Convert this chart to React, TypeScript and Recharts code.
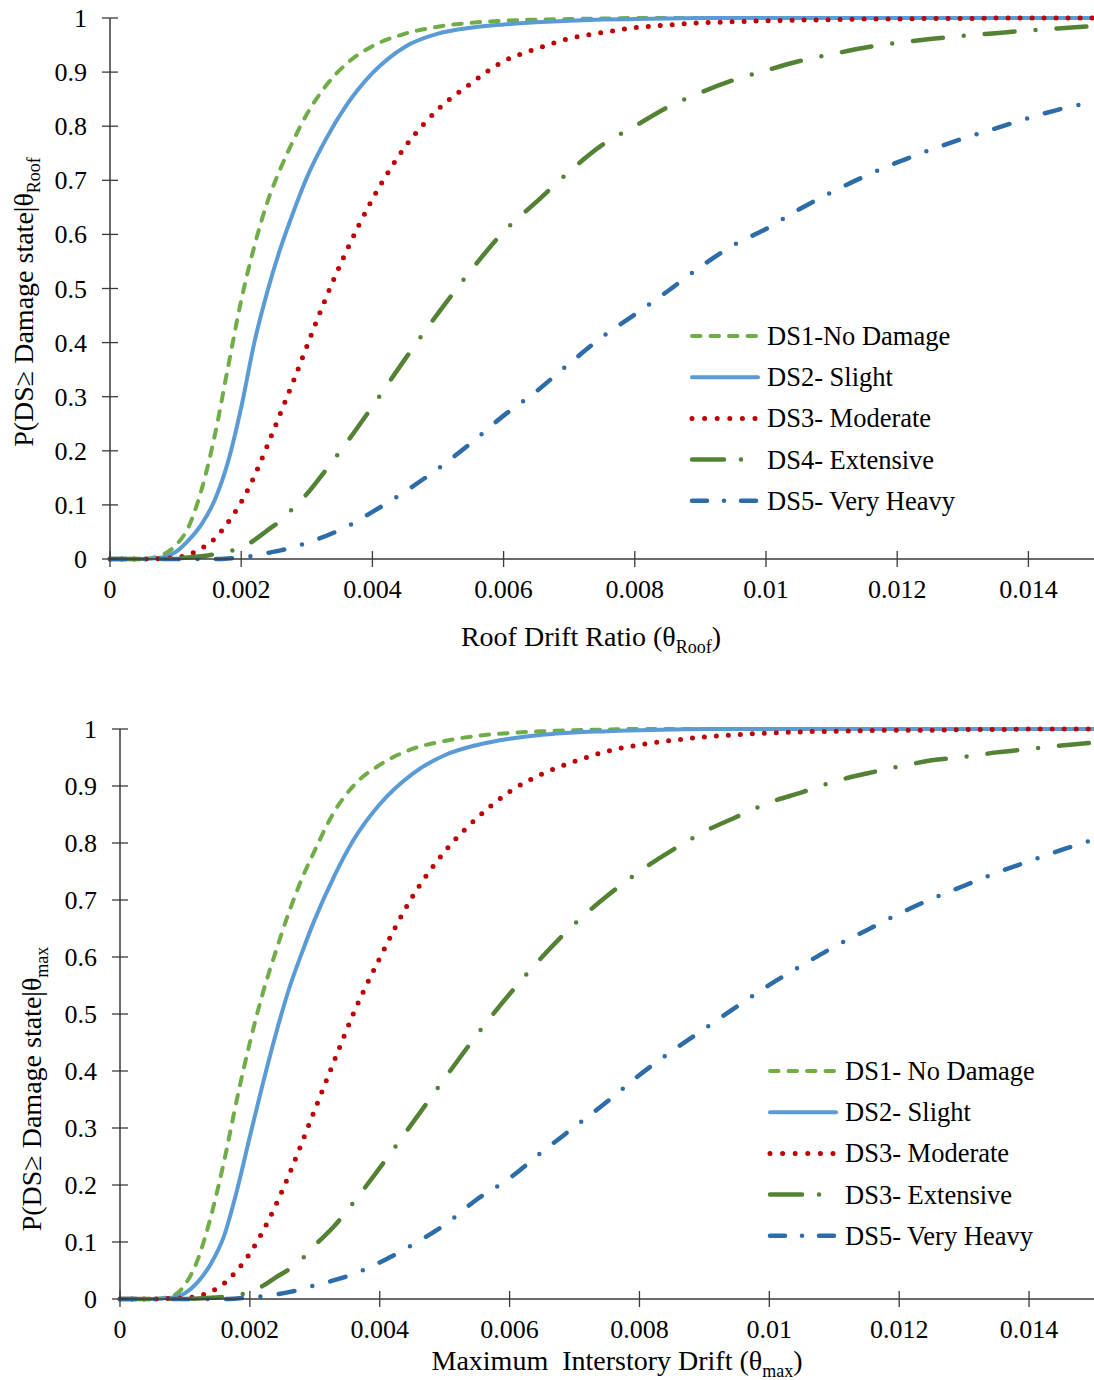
import React from 'react';
import { LineChart, Line, XAxis, YAxis } from 'recharts';

const drift = [
  0, 0.0005, 0.0008, 0.001, 0.0012, 0.0014, 0.0016, 0.0018, 0.002, 0.0022,
  0.0024, 0.0026, 0.0028, 0.003, 0.0033, 0.0036, 0.004, 0.0045, 0.005, 0.0055,
  0.006, 0.0065, 0.007, 0.0075, 0.008, 0.0085, 0.009, 0.0095, 0.01, 0.0105,
  0.011, 0.0115, 0.012, 0.0125, 0.013, 0.0135, 0.014, 0.0145, 0.015,
];

// upper panel: roof drift ratio
const roofDS1 = [
  0, 0, 0.008, 0.025, 0.06, 0.13, 0.23, 0.355, 0.478, 0.578,
  0.66, 0.722, 0.775, 0.822, 0.876, 0.915, 0.948, 0.971, 0.984, 0.991,
  0.995, 0.997, 0.998, 0.999, 1, 1, 1, 1, 1, 1,
  1, 1, 1, 1, 1, 1, 1, 1, 1,
];
const roofDS2 = [
  0, 0, 0.003, 0.013, 0.035, 0.065, 0.11, 0.18, 0.28, 0.4,
  0.495, 0.575, 0.643, 0.705, 0.778, 0.838, 0.898, 0.947, 0.971, 0.982,
  0.988, 0.992, 0.995, 0.997, 0.998, 0.999, 1, 1, 1, 1,
  1, 1, 1, 1, 1, 1, 1, 1, 1,
];
const roofDS3 = [
  0, 0, 0.001, 0.003, 0.008, 0.02, 0.038, 0.068, 0.105, 0.153,
  0.21, 0.27, 0.33, 0.393, 0.485, 0.568, 0.665, 0.762, 0.831, 0.879,
  0.92, 0.943, 0.962, 0.973, 0.982, 0.987, 0.991, 0.993, 0.995, 0.996,
  0.997, 0.998, 0.998, 0.999, 0.999, 1, 1, 1, 1,
];
const roofDS4 = [
  0, 0, 0, 0.001, 0.003, 0.005, 0.009, 0.014, 0.02, 0.035,
  0.053, 0.071, 0.095, 0.12, 0.166, 0.214, 0.282, 0.37, 0.454, 0.533,
  0.605, 0.66, 0.716, 0.765, 0.8, 0.835, 0.862, 0.885, 0.903, 0.92,
  0.933, 0.945, 0.954, 0.961, 0.967, 0.972, 0.977, 0.981, 0.985,
];
const roofDS5 = [
  0, 0, 0, 0, 0, 0, 0, 0.001, 0.003, 0.006,
  0.011, 0.016, 0.022, 0.03, 0.043, 0.059, 0.087, 0.125, 0.167, 0.214,
  0.265, 0.31, 0.361, 0.41, 0.452, 0.495, 0.54, 0.58, 0.61, 0.646,
  0.678, 0.707, 0.733, 0.756, 0.777, 0.796, 0.815, 0.832, 0.845,
];

// lower panel: maximum interstory drift
const maxDS1 = [
  0, 0, 0.005, 0.025, 0.07, 0.145, 0.24, 0.35, 0.45, 0.537,
  0.61, 0.678, 0.737, 0.787, 0.855, 0.901, 0.937, 0.965, 0.979, 0.988,
  0.993, 0.996, 0.998, 0.999, 1, 1, 1, 1, 1, 1,
  1, 1, 1, 1, 1, 1, 1, 1, 1,
];
const maxDS2 = [
  0, 0, 0.002, 0.01, 0.03, 0.062, 0.11, 0.19, 0.285, 0.378,
  0.465, 0.543, 0.607, 0.666, 0.742, 0.806, 0.868, 0.921, 0.954, 0.972,
  0.983, 0.99, 0.994, 0.996, 0.998, 0.999, 1, 1, 1, 1,
  1, 1, 1, 1, 1, 1, 1, 1, 1,
];
const maxDS3 = [
  0, 0, 0.001, 0.002, 0.005, 0.013, 0.027, 0.05, 0.08, 0.119,
  0.165, 0.217, 0.274, 0.332, 0.418, 0.502, 0.598, 0.705, 0.785, 0.844,
  0.89, 0.921, 0.943, 0.961, 0.972, 0.98, 0.986, 0.99, 0.993, 0.995,
  0.996, 0.997, 0.998, 0.998, 0.999, 0.999, 1, 1, 1,
];
const maxDS4 = [
  0, 0, 0, 0, 0.001, 0.002, 0.004, 0.007, 0.012, 0.023,
  0.038, 0.052, 0.07, 0.094, 0.128, 0.17, 0.23, 0.308, 0.387, 0.464,
  0.535, 0.6, 0.658, 0.707, 0.75, 0.787, 0.82, 0.846, 0.871, 0.889,
  0.908, 0.922, 0.934, 0.945, 0.951, 0.959, 0.965, 0.971, 0.976,
];
const maxDS5 = [
  0, 0, 0, 0, 0, 0, 0, 0.001, 0.003, 0.005,
  0.008, 0.012, 0.017, 0.024, 0.033, 0.044, 0.064, 0.095, 0.13, 0.175,
  0.212, 0.258, 0.302, 0.346, 0.393, 0.435, 0.474, 0.513, 0.551, 0.585,
  0.618, 0.647, 0.676, 0.702, 0.725, 0.748, 0.768, 0.788, 0.806,
];

const xTicks = [0, 0.002, 0.004, 0.006, 0.008, 0.01, 0.012, 0.014];
const xTickLabels = ['0', '0.002', '0.004', '0.006', '0.008', '0.01', '0.012', '0.014'];
const yTicks = [0, 0.1, 0.2, 0.3, 0.4, 0.5, 0.6, 0.7, 0.8, 0.9, 1];
const yTickLabels = ['0', '0.1', '0.2', '0.3', '0.4', '0.5', '0.6', '0.7', '0.8', '0.9', '1'];

const roofLegend = ['DS1-No Damage', 'DS2- Slight', 'DS3- Moderate', 'DS4- Extensive', 'DS5- Very Heavy'];
const maxLegend = ['DS1- No Damage', 'DS2- Slight', 'DS3- Moderate', 'DS3- Extensive', 'DS5- Very Heavy'];

const FONT = '"Liberation Serif", "Times New Roman", serif';
const AXIS = '#3a3a3a';

const seriesStyles = [
  { key: 'ds1', color: '#70AD47', width: 4, dash: '8.5 10', legendDash: '8.5 10' },
  { key: 'ds2', color: '#5B9BD5', width: 4, dash: undefined, legendDash: undefined },
  { key: 'ds3', color: '#C00000', width: 5, dash: '0 12', legendDash: '0 12.6' },
  { key: 'ds4', color: '#548235', width: 4.5, dash: '30 21 0 21', legendDash: '32 17 0 40' },
  { key: 'ds5', color: '#2C6CA8', width: 4.5, dash: '16 18.5 0 18.5', legendDash: '15 17 0 17' },
];

const buildRows = (cols: number[][]) =>
  drift.map((d, i) => ({
    drift: d,
    ds1: cols[0][i],
    ds2: cols[1][i],
    ds3: cols[2][i],
    ds4: cols[3][i],
    ds5: cols[4][i],
  }));

const roofData = buildRows([roofDS1, roofDS2, roofDS3, roofDS4, roofDS5]);
const maxData = buildRows([maxDS1, maxDS2, maxDS3, maxDS4, maxDS5]);

const makeXTick = (axisY: number) => (props: any) => {
  const { x, payload } = props;
  const label = xTickLabels[xTicks.indexOf(payload.value)] ?? String(payload.value);
  return (
    <g>
      <line x1={x} x2={x} y1={axisY - 8} y2={axisY + 8} stroke={AXIS} strokeWidth={1.3} />
      <text x={x} y={axisY + 39} textAnchor="middle" fontSize={26} fontFamily={FONT} fill="#000">
        {label}
      </text>
    </g>
  );
};

const makeYTick = (axisX: number) => (props: any) => {
  const { y, payload } = props;
  const label = yTickLabels[yTicks.indexOf(payload.value)] ?? String(payload.value);
  return (
    <g>
      <line x1={axisX - 8} x2={axisX + 8} y1={y} y2={y} stroke={AXIS} strokeWidth={1.3} />
      <text x={axisX - 23} y={y + 9} textAnchor="end" fontSize={26} fontFamily={FONT} fill="#000">
        {label}
      </text>
    </g>
  );
};

interface PanelProps {
  data: any[];
  width: number;
  height: number;
  marginTop: number;
  marginBottom: number;
  yAxisWidth: number;
}

const Panel: React.FC<PanelProps> = ({ data, width, height, marginTop, marginBottom, yAxisWidth }) => {
  const axisY = height - marginBottom - 60;
  return (
    <LineChart
      width={width}
      height={height}
      data={data}
      margin={{ top: marginTop, right: 0, left: 0, bottom: marginBottom }}
    >
      <XAxis
        dataKey="drift"
        type="number"
        domain={[0, 0.015]}
        ticks={xTicks}
        interval={0}
        height={60}
        tickLine={false}
        axisLine={{ stroke: AXIS, strokeWidth: 1.5 }}
        tick={makeXTick(axisY)}
      />
      <YAxis
        type="number"
        domain={[0, 1]}
        ticks={yTicks}
        interval={0}
        width={yAxisWidth}
        tickLine={false}
        axisLine={{ stroke: AXIS, strokeWidth: 1.5 }}
        tick={makeYTick(yAxisWidth)}
      />
      {seriesStyles.map((s) => (
        <Line
          key={s.key}
          dataKey={s.key}
          type="monotone"
          stroke={s.color}
          strokeWidth={s.width}
          strokeDasharray={s.dash}
          strokeLinecap="round"
          dot={false}
          activeDot={false}
          isAnimationActive={false}
        />
      ))}
    </LineChart>
  );
};

const LegendBox: React.FC<{ left: number; top: number; labels: string[] }> = ({ left, top, labels }) => (
  <svg
    width={300}
    height={215}
    style={{ position: 'absolute', left, top, overflow: 'visible' }}
  >
    {labels.map((label, i) => {
      const s = seriesStyles[i];
      const cy = 12 + i * 41.2;
      return (
        <g key={label}>
          <line
            x1={4}
            x2={70}
            y1={cy}
            y2={cy}
            stroke={s.color}
            strokeWidth={s.width}
            strokeDasharray={s.legendDash}
            strokeLinecap="round"
          />
          <text x={79} y={cy + 9} fontSize={26.5} fontFamily={FONT} fill="#000">
            {label}
          </text>
        </g>
      );
    })}
  </svg>
);

const titleStyle: React.CSSProperties = {
  position: 'absolute',
  fontFamily: FONT,
  fontSize: 28,
  lineHeight: 1,
  whiteSpace: 'pre',
  color: '#000',
};

const Sub: React.FC<{ children: React.ReactNode }> = ({ children }) => (
  <span style={{ fontSize: 18, position: 'relative', top: 7 }}>{children}</span>
);

const XTitle: React.FC<{ cx: number; baseline: number; children: React.ReactNode }> = ({ cx, baseline, children }) => (
  <div style={{ ...titleStyle, left: cx, top: baseline - 23.5, transform: 'translateX(-50%)' }}>{children}</div>
);

const YTitle: React.FC<{ cx: number; cy: number; children: React.ReactNode }> = ({ cx, cy, children }) => (
  <div
    style={{
      ...titleStyle,
      left: cx,
      top: cy,
      transform: 'translate(-50%, -50%) rotate(-90deg)',
    }}
  >
    {children}
  </div>
);

const App: React.FC = () => {
  return (
    <div
      style={{
        position: 'absolute',
        left: 0,
        top: 0,
        width: 1094,
        height: 1380,
        background: '#fff',
        overflow: 'hidden',
        fontFamily: FONT,
      }}
    >
      <div style={{ position: 'absolute', left: 0, top: 0 }}>
        <Panel data={roofData} width={1094} height={660} marginTop={18} marginBottom={41} yAxisWidth={110} />
      </div>
      <div style={{ position: 'absolute', left: 0, top: 660 }}>
        <Panel data={maxData} width={1094} height={720} marginTop={69} marginBottom={21} yAxisWidth={120} />
      </div>

      <YTitle cx={23.5} cy={302}>
        {'P(DS\u2265 Damage state|\u03b8'}
        <Sub>Roof</Sub>
      </YTitle>
      <XTitle cx={591} baseline={646}>
        {'Roof Drift Ratio (\u03b8'}
        <Sub>Roof</Sub>
        {')'}
      </XTitle>
      <LegendBox left={688} top={324} labels={roofLegend} />

      <YTitle cx={31.5} cy={1089}>
        {'P(DS\u2265 Damage state|\u03b8'}
        <Sub>max</Sub>
      </YTitle>
      <XTitle cx={617} baseline={1370}>
        {'Maximum  Interstory Drift (\u03b8'}
        <Sub>max</Sub>
        {')'}
      </XTitle>
      <LegendBox left={766} top={1059} labels={maxLegend} />
    </div>
  );
};

export default App;
